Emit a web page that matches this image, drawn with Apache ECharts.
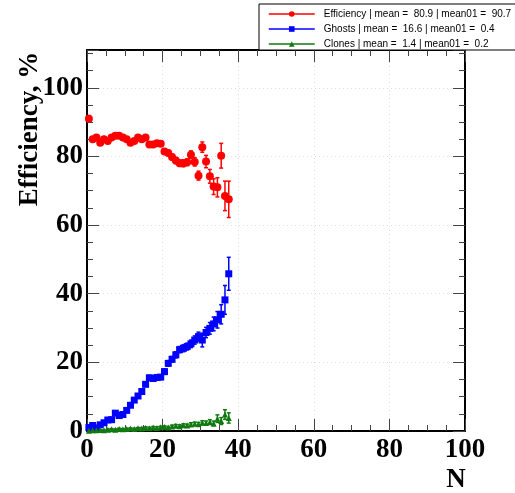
<!DOCTYPE html>
<html><head><meta charset="utf-8">
<script src="https://cdn.jsdelivr.net/npm/echarts@6/dist/echarts.min.js"></script>
<style>html,body{margin:0;padding:0;background:#fff}#c{width:515px;height:493px}</style>
</head><body><div id="c"></div>
<script>
const binCenters = [0.5,1.5,2.5,3.5,4.5,5.5,6.5,7.5,8.5,9.5,10.5,11.5,12.5,13.5,14.5,15.5,16.5,17.5,18.5,19.5,20.5,21.5,22.5,23.5,24.5,25.5,26.5,27.5,28.5,29.5,30.5,31.5,32.5,33.5,34.5,35.5,36.5,37.5];
const effValues = [91.0,85.0,85.5,84.0,85.0,84.5,85.5,86.0,86.0,85.5,85.0,84.0,84.5,85.5,85.0,85.5,83.5,83.5,83.8,83.7,81.4,81.0,79.8,78.8,78.0,78.0,78.3,80.5,78.4,74.4,82.7,78.5,74.2,71.2,71.0,80.2,68.5,67.5];
const effErrors = [0.9,0.4,0.4,0.4,0.4,0.4,0.4,0.4,0.4,0.4,0.5,0.5,0.5,0.5,0.5,0.6,0.6,0.6,0.7,0.7,0.7,0.8,0.8,0.9,0.9,1.0,1.0,1.1,1.2,1.3,1.5,1.8,2.0,2.3,2.8,3.6,4.3,5.3];
const ghostValues = [1.0,1.6,0.9,1.8,2.4,3.2,3.3,5.2,4.5,4.8,6.0,7.5,9.0,10.2,11.5,13.6,15.5,15.3,15.6,15.7,17.3,19.7,20.9,22.2,23.7,24.1,24.6,25.4,26.5,27.5,26.5,28.7,29.9,31.2,32.4,34.0,38.2,45.8];
const ghostErrors = [0.4,0.3,0.3,0.3,0.3,0.4,0.4,0.4,0.4,0.4,0.5,0.5,0.5,0.6,0.6,0.6,0.7,0.7,0.7,0.7,0.8,0.8,0.8,0.9,0.9,1.0,1.0,1.1,1.2,1.3,2.0,1.5,1.7,2.0,2.4,2.8,4.2,4.8];
const cloneValues = [0.1,0.2,0.2,0.3,0.2,0.4,0.5,0.4,0.6,0.5,0.6,0.7,0.6,0.8,0.7,0.9,0.8,1.0,0.9,1.1,1.2,1.0,1.3,1.5,1.4,1.7,1.6,1.9,2.1,2.0,2.4,2.3,2.6,2.2,3.6,2.9,4.8,3.8];
const cloneErrors = [0.1,0.1,0.1,0.1,0.1,0.2,0.2,0.2,0.2,0.2,0.2,0.2,0.2,0.2,0.3,0.3,0.3,0.3,0.3,0.3,0.3,0.3,0.4,0.4,0.4,0.4,0.4,0.5,0.5,0.5,0.6,0.6,0.7,0.7,1.1,1.0,1.4,1.5];
const legendLabels = [
  'Efficiency | mean =  80.9 | mean01 =  90.7',
  'Ghosts | mean =  16.6 | mean01 =  0.4',
  'Clones | mean =  1.4 | mean01 =  0.2'
];
const xTitle = 'N';
const yTitle = 'Efficiency, %';

const colors = ['#ff0000', '#0000ff', '#107a10'];
const symbols = ['circle', 'rect', 'triangle'];
const symbolSizes = [8, 7, 6];

function pts(vals) { return binCenters.map((x, i) => [x, vals[i]]); }
function errPts(vals, errs) { return binCenters.map((x, i) => [x, vals[i], errs[i]]); }

function errRender(params, api) {
  const x = api.value(0), y = api.value(1), e = api.value(2);
  const t = api.coord([x, y + e]);
  const b = api.coord([x, y - e]);
  const c = api.visual('color');
  const cap = 2;
  const st = { stroke: c, lineWidth: 1.5 };
  return { type: 'group', children: [
    { type: 'line', shape: { x1: t[0], y1: t[1], x2: b[0], y2: b[1] }, style: st },
    { type: 'line', shape: { x1: t[0]-cap, y1: t[1], x2: t[0]+cap, y2: t[1] }, style: st },
    { type: 'line', shape: { x1: b[0]-cap, y1: b[1], x2: b[0]+cap, y2: b[1] }, style: st }
  ]};
}

const valueSets = [effValues, ghostValues, cloneValues];
const errorSets = [effErrors, ghostErrors, cloneErrors];
const series = [];
for (let i = 0; i < 3; i++) {
  series.push({
    name: legendLabels[i] + ' err', type: 'custom', renderItem: errRender,
    data: errPts(valueSets[i], errorSets[i]), itemStyle: { color: colors[i] },
    encode: { x: 0, y: 1 }, z: 3, clip: true, silent: true
  });
}
for (let i = 0; i < 3; i++) {
  series.push({
    name: legendLabels[i], type: 'line', data: pts(valueSets[i]),
    symbol: symbols[i], symbolSize: symbolSizes[i], showSymbol: true,
    itemStyle: { color: colors[i] }, lineStyle: { color: colors[i], opacity: 0 },
    z: 4, animation: false, clip: true
  });
}

const tickFont = { fontFamily: 'Liberation Serif', fontWeight: 'bold', fontSize: 27, color: '#000' };
const axisLine = { show: true, onZero: false, lineStyle: { color: '#000', width: 2 } };
const tick = { show: true, inside: true, length: 12, lineStyle: { color: '#444', width: 1 } };
const minor = { show: true, splitNumber: 4, length: 6, lineStyle: { color: '#444', width: 1 } };
const grid = { show: true, lineStyle: { color: '#dddddd', type: [1, 3], width: 1 } };

const chart = echarts.init(document.getElementById('c'));
chart.setOption({
  animation: false,
  backgroundColor: '#fff',
  grid: { left: 87, top: 50, right: 50, bottom: 62, containLabel: false },
  xAxis: [
    { type: 'value', min: 0, max: 100, interval: 20, position: 'bottom',
      axisLine: axisLine, axisTick: tick, minorTick: minor,
      axisLabel: Object.assign({ margin: 6 }, tickFont),
      splitLine: grid },
    { type: 'value', min: 0, max: 100, interval: 20, position: 'top',
      axisLine: axisLine, axisTick: tick, minorTick: minor,
      axisLabel: { show: false }, splitLine: { show: false } }
  ],
  yAxis: [
    { type: 'value', min: 0, max: 111, interval: 20, position: 'left',
      axisLine: axisLine, axisTick: tick, minorTick: minor,
      axisLabel: Object.assign({ margin: 4, showMaxLabel: false }, tickFont),
      splitLine: grid },
    { type: 'value', min: 0, max: 111, interval: 20, position: 'right',
      axisLine: axisLine, axisTick: tick, minorTick: minor,
      axisLabel: { show: false }, splitLine: { show: false } }
  ],
  legend: {
    orient: 'vertical', left: 259, top: 4,
    data: legendLabels,
    backgroundColor: '#fff', borderColor: '#000', borderWidth: 1,
    padding: [5, 12, 1, 9], itemGap: 5, itemWidth: 46, itemHeight: 7,
    itemStyle: { borderWidth: 0 },
    lineStyle: { width: 1.5, opacity: 1 },
    textStyle: { fontFamily: 'Liberation Sans', fontSize: 10, lineHeight: 10, color: '#000', padding: [0, 0, 0, 4] },
    selectedMode: false
  },
  graphic: [
    { type: 'text', x: 30, y: 129, rotation: Math.PI / 2,
      style: { text: yTitle, font: 'bold 27px "Liberation Serif"', fill: '#000',
        textAlign: 'center', textVerticalAlign: 'middle', align: 'center', verticalAlign: 'middle' } },
    { type: 'text', x: 456, y: 480,
      style: { text: xTitle, font: 'bold 27px "Liberation Serif"', fill: '#000',
        textAlign: 'center', textVerticalAlign: 'middle', align: 'center', verticalAlign: 'middle' } }
  ],
  series: series
});
</script>
</body></html>
